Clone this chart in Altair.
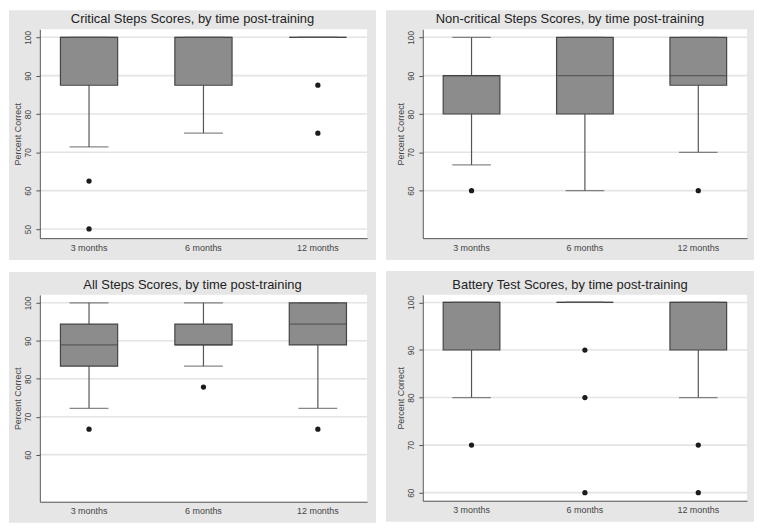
import altair as alt
import pandas as pd

# ---------------- data ----------------
TIMES = ["3 months", "6 months", "12 months"]

TITLES = [
    "Critical Steps Scores, by time post-training",
    "Non-critical Steps Scores, by time post-training",
    "All Steps Scores, by time post-training",
    "Battery Test Scores, by time post-training",
]

# Critical steps
crit_q1 = [87.5, 87.5, 100.0]
crit_median = [100.0, 100.0, 100.0]
crit_q3 = [100.0, 100.0, 100.0]
crit_lower = [71.4, 75.0, 100.0]
crit_upper = [100.0, 100.0, 100.0]
crit_out_time = ["3 months", "3 months", "12 months", "12 months"]
crit_out_value = [62.5, 50.0, 87.5, 75.0]

# Non-critical steps
noncrit_q1 = [80.0, 80.0, 87.5]
noncrit_median = [90.0, 90.0, 90.0]
noncrit_q3 = [90.0, 100.0, 100.0]
noncrit_lower = [66.7, 60.0, 70.0]
noncrit_upper = [100.0, 100.0, 100.0]
noncrit_out_time = ["3 months", "12 months"]
noncrit_out_value = [60.0, 60.0]

# All steps
all_q1 = [83.3, 88.9, 88.9]
all_median = [88.9, 88.9, 94.4]
all_q3 = [94.4, 94.4, 100.0]
all_lower = [72.2, 83.3, 72.2]
all_upper = [100.0, 100.0, 100.0]
all_out_time = ["3 months", "6 months", "12 months"]
all_out_value = [66.7, 77.8, 66.7]

# Battery test
bat_q1 = [90.0, 100.0, 90.0]
bat_median = [100.0, 100.0, 100.0]
bat_q3 = [100.0, 100.0, 100.0]
bat_lower = [80.0, 100.0, 80.0]
bat_upper = [100.0, 100.0, 100.0]
bat_out_time = ["3 months", "6 months", "6 months", "6 months", "12 months", "12 months"]
bat_out_value = [70.0, 90.0, 80.0, 60.0, 70.0, 60.0]

Y_TICKS = [
    [50, 60, 70, 80, 90, 100],
    [60, 70, 80, 90, 100],
    [60, 70, 80, 90, 100],
    [60, 70, 80, 90, 100],
]
Y_DOMAINS = [[47.6, 102.1], [47.6, 102.1], [47.6, 102.1], [58.3, 101.6]]

# ---------------- style ----------------
PANEL_BG = "#e6e6e6"
GRID = "#e4e4e4"
BOX_FILL = "#8c8c8c"
BOX_STROKE = "#454545"
WHISKER = "#555555"
DOT = "#1c1c1c"
TEXT = "#444444"
AXIS = "#555555"
FONT = "Liberation Sans"

P_INNER = 0.5
P_OUTER = 0.18


def panel(i, q1, med, q3, lo, hi, out_t, out_v, L, W, R, T, H, B):
    box_df = pd.DataFrame({"time": TIMES, "q1": q1, "median": med, "q3": q3,
                           "lower": lo, "upper": hi})
    cap_df = pd.DataFrame({"time": TIMES * 2, "cap": list(lo) + list(hi)})
    out_df = pd.DataFrame({"time": out_t, "value": out_v})
    grid_df = pd.DataFrame({"tick": Y_TICKS[i]})
    one = pd.DataFrame({"t": [TITLES[i]]})

    step = W / (3 - P_INNER + 2 * P_OUTER)
    bw = step * (1 - P_INNER)

    yscale = alt.Scale(domain=Y_DOMAINS[i], nice=False, zero=False)
    yaxis = alt.Axis(values=Y_TICKS[i], grid=False, labelAngle=270,
                     labelAlign="center", labelBaseline="bottom",
                     labelFontSize=8.5, labelColor=TEXT, labelPadding=3,
                     tickSize=4, tickColor=AXIS, domainColor=AXIS,
                     title="Percent Correct", titleFontSize=9,
                     titleFontWeight="normal", titleColor=TEXT,
                     titleAngle=270, titleX=-22, titleY=H / 2,
                     titleBaseline="middle", titleAlign="center", zindex=1)
    xaxis = alt.Axis(title=None, ticks=False, labelAngle=0, labelFontSize=9,
                     labelColor=TEXT, labelPadding=5, domainColor=AXIS,
                     grid=False, zindex=1)
    X = alt.X("time:N", sort=TIMES,
              scale=alt.Scale(domain=TIMES, paddingInner=P_INNER,
                              paddingOuter=P_OUTER),
              axis=xaxis)

    def Y(f):
        return alt.Y(f"{f}:Q", scale=yscale, axis=yaxis)

    bg = alt.Chart(one).mark_rect(fill=PANEL_BG).encode(
        x=alt.value(-L), x2=alt.value(W + R), y=alt.value(-T), y2=alt.value(H + B))
    plot_bg = alt.Chart(one).mark_rect(fill="white").encode(
        x=alt.value(0), x2=alt.value(W), y=alt.value(0), y2=alt.value(H))
    grid = alt.Chart(grid_df).mark_rule(color=GRID, strokeWidth=1.6).encode(
        y=Y("tick"), x=alt.value(0), x2=alt.value(W))
    whisk = alt.Chart(box_df).mark_rule(color=WHISKER, strokeWidth=1.2).encode(
        x=X, y=Y("lower"), y2=alt.Y2("upper"))
    box = alt.Chart(box_df).mark_bar(fill=BOX_FILL, stroke=BOX_STROKE,
                                     strokeWidth=1.2).encode(
        x=X, y=Y("q1"), y2=alt.Y2("q3"))
    median = alt.Chart(box_df).mark_tick(color=BOX_STROKE, thickness=1.2,
                                         size=bw).encode(x=X, y=Y("median"))
    caps = alt.Chart(cap_df).mark_tick(color=WHISKER, thickness=1.2,
                                       size=bw * 0.68).encode(x=X, y=Y("cap"))
    outl = alt.Chart(out_df).mark_circle(size=28, color=DOT, opacity=1).encode(
        x=X, y=Y("value"))
    title = alt.Chart(one).mark_text(fontSize=13, color="#222222",
                                     align="center", baseline="alphabetic",
                                     font=FONT).encode(
        text="t:N", x=alt.value((W + R - L) / 2), y=alt.value(-6))

    return alt.layer(bg, plot_bg, grid, whisk, box, median, caps, outl, title).properties(
        width=W, height=H)


p1 = panel(0, crit_q1, crit_median, crit_q3, crit_lower, crit_upper,
           crit_out_time, crit_out_value, 31, 329, 9, 19, 210, 22)
p2 = panel(1, noncrit_q1, noncrit_median, noncrit_q3, noncrit_lower, noncrit_upper,
           noncrit_out_time, noncrit_out_value, 37, 326, 7, 19, 210, 22)
p3 = panel(2, all_q1, all_median, all_q3, all_lower, all_upper,
           all_out_time, all_out_value, 31, 329, 9, 23, 208, 21)
p4 = panel(3, bat_q1, bat_median, bat_q3, bat_lower, bat_upper,
           bat_out_time, bat_out_value, 37, 326, 7, 24, 207, 21)

chart = alt.vconcat(
    alt.hconcat(p1, p2, spacing=8),
    alt.hconcat(p3, p4, spacing=8),
    spacing=9,
).properties(padding=0, background="white").configure_view(
    strokeWidth=0
).configure(font=FONT)

chart.save("out.html", embed_options={"renderer": "svg", "actions": False})
